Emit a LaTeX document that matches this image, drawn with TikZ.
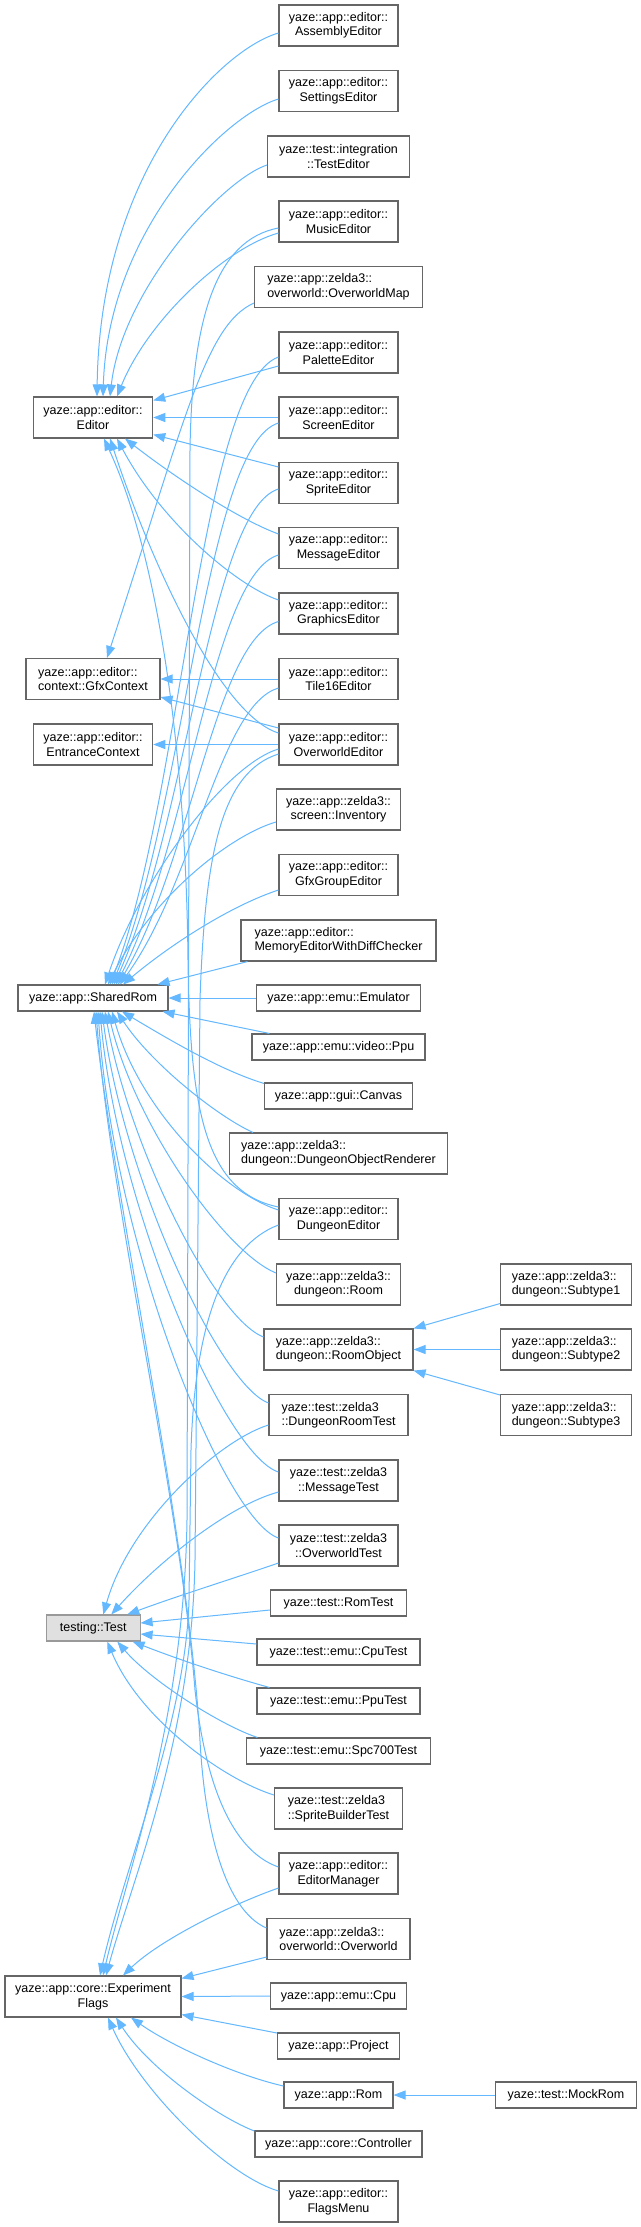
\documentclass[tikz,border=0pt]{standalone}
\usepackage{fontspec}
\setmainfont{Liberation Sans}
\usetikzlibrary{arrows.meta}
\definecolor{edgeblue}{HTML}{63B8FF}
\definecolor{boxgray}{HTML}{666666}
\definecolor{rootgray}{HTML}{999999}
\definecolor{rootfill}{HTML}{E0E0E0}
\tikzset{
  cls/.style={draw=boxgray, line width=1.1pt, fill=white, inner sep=0pt,
    font=\fontsize{12.5}{14.5}\selectfont, align=center, minimum height=41pt},
  one/.style={cls, minimum height=26pt},
  inh/.style={draw=edgeblue, line width=1pt, -{Triangle[length=12pt,width=9pt]}},
}
\begin{document}
\begin{tikzpicture}[x=1pt,y=-1pt]
\path[use as bounding box, fill=white] (0,0) rectangle (640,2227);
% ---------- right column ----------
\node[cls, minimum width=119pt] (asm) at (338.5,25.5) {yaze::app::editor::\\AssemblyEditor};
\node[cls, minimum width=119pt] (set) at (338.5,91) {yaze::app::editor::\\SettingsEditor};
\node[cls, minimum width=142pt] (ted) at (338.5,156.5) {yaze::test::integration\\::TestEditor};
\node[cls, minimum width=119pt] (mus) at (338.5,221.5) {yaze::app::editor::\\MusicEditor};
\node[cls, minimum width=168pt, align=left] (owm) at (338.5,287) {yaze::app::zelda3::\\overworld::OverworldMap};
\node[cls, minimum width=119pt] (pal) at (338.5,352.5) {yaze::app::editor::\\PaletteEditor};
\node[cls, minimum width=119pt] (scr) at (338.5,417.5) {yaze::app::editor::\\ScreenEditor};
\node[cls, minimum width=119pt] (spr) at (338.5,483) {yaze::app::editor::\\SpriteEditor};
\node[cls, minimum width=119pt] (msg) at (338.5,548) {yaze::app::editor::\\MessageEditor};
\node[cls, minimum width=119pt] (gfx) at (338.5,613.5) {yaze::app::editor::\\GraphicsEditor};
\node[cls, minimum width=119pt] (t16) at (338.5,679) {yaze::app::editor::\\Tile16Editor};
\node[cls, minimum width=119pt] (owe) at (338.5,744.5) {yaze::app::editor::\\OverworldEditor};
\node[cls, minimum width=124pt] (inv) at (338.5,809.5) {yaze::app::zelda3::\\screen::Inventory};
\node[cls, minimum width=119pt] (gge) at (338.5,875) {yaze::app::editor::\\GfxGroupEditor};
\node[cls, minimum width=195pt, align=left] (mem) at (338.5,940.5) {yaze::app::editor::\\MemoryEditorWithDiffChecker};
\node[one, minimum width=164pt] (emu) at (338.5,998) {yaze::app::emu::Emulator};
\node[one, minimum width=173pt] (ppu) at (338.5,1047) {yaze::app::emu::video::Ppu};
\node[one, minimum width=148pt] (cvs) at (338.5,1096) {yaze::app::gui::Canvas};
\node[cls, minimum width=218pt, align=left] (dor) at (338.5,1153.5) {yaze::app::zelda3::\\dungeon::DungeonObjectRenderer};
\node[cls, minimum width=119pt] (dge) at (338.5,1219) {yaze::app::editor::\\DungeonEditor};
\node[cls, minimum width=124pt] (room) at (338.5,1284.5) {yaze::app::zelda3::\\dungeon::Room};
\node[cls, minimum width=149pt, align=left] (robj) at (338.5,1349.5) {yaze::app::zelda3::\\dungeon::RoomObject};
\node[cls, minimum width=139pt, align=left] (drt) at (338.5,1415) {yaze::test::zelda3\\::DungeonRoomTest};
\node[cls, minimum width=119pt] (mt) at (338.5,1480.5) {yaze::test::zelda3\\::MessageTest};
\node[cls, minimum width=119pt] (owt) at (338.5,1545.5) {yaze::test::zelda3\\::OverworldTest};
\node[one, minimum width=136pt] (romt) at (338.5,1603) {yaze::test::RomTest};
\node[one, minimum width=163pt] (cput) at (338.5,1652) {yaze::test::emu::CpuTest};
\node[one, minimum width=163pt] (ppt) at (338.5,1701) {yaze::test::emu::PpuTest};
\node[one, minimum width=184pt] (spct) at (338.5,1751) {yaze::test::emu::Spc700Test};
\node[cls, minimum width=128pt, align=left] (sbt) at (338.5,1808.5) {yaze::test::zelda3\\::SpriteBuilderTest};
\node[cls, minimum width=119pt] (edm) at (338.5,1873.5) {yaze::app::editor::\\EditorManager};
\node[cls, minimum width=143pt, align=left] (ow) at (338.5,1939) {yaze::app::zelda3::\\overworld::Overworld};
\node[one, minimum width=136pt] (cpu) at (338.5,1996) {yaze::app::emu::Cpu};
\node[one, minimum width=122pt] (prj) at (338.5,2046) {yaze::app::Project};
\node[one, minimum width=109pt] (rom) at (338.5,2095) {yaze::app::Rom};
\node[one, minimum width=167pt] (ctl) at (338.5,2144) {yaze::app::core::Controller};
\node[cls, minimum width=119pt] (flm) at (338.5,2201.5) {yaze::app::editor::\\FlagsMenu};
% ---------- left column ----------
\node[cls, minimum width=119.4pt] (ed) at (93,417.5) {yaze::app::editor::\\Editor};
\node[cls, minimum width=134pt, align=left] (gfc) at (93,679) {yaze::app::editor::\\context::GfxContext};
\node[cls, minimum width=119.4pt] (ent) at (93,744.5) {yaze::app::editor::\\EntranceContext};
\node[one, minimum width=150pt] (shr) at (93,998) {yaze::app::SharedRom};
\node[one, minimum width=93.5pt, draw=rootgray, fill=rootfill] (tst) at (93.3,1628) {testing::Test};
\node[cls, minimum width=176pt] (flg) at (93,1996.5) {yaze::app::core::Experiment\\Flags};
% ---------- far right column ----------
\node[cls, minimum width=131pt, align=left] (st1) at (566,1284.5) {yaze::app::zelda3::\\dungeon::Subtype1};
\node[cls, minimum width=131pt, align=left] (st2) at (566,1349.5) {yaze::app::zelda3::\\dungeon::Subtype2};
\node[cls, minimum width=131pt, align=left] (st3) at (566,1415) {yaze::app::zelda3::\\dungeon::Subtype3};
\node[one, minimum width=141.5pt] (mock) at (566,2095) {yaze::test::MockRom};
% ---------- edges to Editor ----------
\draw[inh] ([yshift=-7.5pt]asm.west) .. controls (220,50) and (100,170) .. ([xshift=4pt]ed.north);
\draw[inh] ([yshift=-8pt]set.west) .. controls (225,115) and (108,230) .. ([xshift=10pt]ed.north);
\draw[inh] ([yshift=-8.5pt]ted.west) .. controls (222,180) and (122,290) .. ([xshift=17pt]ed.north);
\draw[inh] ([yshift=-11.5pt]mus.west) .. controls (225,248) and (148,320) .. ([xshift=24pt]ed.north);
\draw[inh] ([yshift=-13.5pt]pal.west) -- ([yshift=-4pt]ed.north east);
\draw[inh] (scr.west) -- (ed.east);
\draw[inh] ([yshift=16pt]spr.west) -- ([yshift=4pt]ed.south east);
\draw[inh] ([yshift=14pt]msg.west) .. controls (235,518) and (168,472) .. ([xshift=32pt]ed.south);
\draw[inh] ([yshift=13.5pt]gfx.west) .. controls (235,585) and (160,520) .. ([xshift=24pt]ed.south);
\draw[inh] ([yshift=11.5pt]owe.west) .. controls (220,715) and (150,560) .. ([xshift=17pt]ed.south);
\draw[inh] ([yshift=12pt]dge.west) .. controls (205,1192) and (190,1110) .. (188,960)
  .. controls (186,760) and (160,560) .. ([xshift=11pt]ed.south);
% ---------- GfxContext / EntranceContext ----------
\draw[inh] ([yshift=-16pt]owm.west) .. controls (205,325) and (185,420) .. ([xshift=14pt]gfc.north);
\draw[inh] (t16.west) -- (gfc.east);
\draw[inh] ([yshift=16.5pt]owe.west) -- ([yshift=3pt]gfc.south east);
\draw[inh] (owe.west) -- (ent.east);
% ---------- SharedRom ----------
\draw[inh] ([yshift=-4.5pt]pal.west) .. controls (200,385) and (182,800) .. ([xshift=17pt]shr.north);
\draw[inh] ([yshift=-5.5pt]scr.west) .. controls (205,445) and (185,810) .. ([xshift=19pt]shr.north);
\draw[inh] ([yshift=-6pt]spr.west) .. controls (210,510) and (188,820) .. ([xshift=21pt]shr.north);
\draw[inh] ([yshift=-7pt]msg.west) .. controls (212,575) and (190,840) .. ([xshift=23pt]shr.north);
\draw[inh] ([yshift=-8pt]gfx.west) .. controls (215,640) and (192,860) .. ([xshift=25pt]shr.north);
\draw[inh] ([yshift=-9pt]t16.west) .. controls (220,705) and (195,880) .. ([xshift=27pt]shr.north);
\draw[inh] ([yshift=-4.5pt]owe.west) .. controls (225,765) and (140,880) .. ([xshift=12pt]shr.north);
\draw[inh] ([yshift=-12.5pt]inv.west) .. controls (228,836) and (150,900) .. ([xshift=15pt]shr.north);
\draw[inh] ([yshift=-15pt]gge.west) .. controls (230,906) and (170,945) .. ([xshift=30pt]shr.north);
\draw[inh] ([xshift=7pt]mem.south west) -- ([xshift=-11pt]shr.north east);
\draw[inh] (emu.west) -- (shr.east);
\draw[inh] ([xshift=18pt]ppu.north west) -- ([xshift=-6pt]shr.south east);
\draw[inh] ([yshift=-1pt]cvs.north west) .. controls (220,1070) and (170,1040) .. ([xshift=29pt]shr.south);
\draw[inh] ([xshift=24pt]dor.north west) .. controls (215,1115) and (150,1062) .. ([xshift=24pt]shr.south);
\draw[inh] ([yshift=9pt]dge.west) .. controls (222,1192) and (140,1110) .. ([xshift=19pt]shr.south);
\draw[inh] ([yshift=11.5pt]room.west) .. controls (225,1252) and (135,1125) .. ([xshift=15pt]shr.south);
\draw[inh] ([yshift=12.5pt]robj.west) .. controls (215,1318) and (130,1150) .. ([xshift=12pt]shr.south);
\draw[inh] ([yshift=12pt]drt.west) .. controls (220,1385) and (124,1180) .. ([xshift=9pt]shr.south);
\draw[inh] ([yshift=8.5pt]mt.west) .. controls (225,1455) and (118,1210) .. ([xshift=7pt]shr.south);
\draw[inh] ([yshift=7.5pt]owt.west) .. controls (225,1520) and (114,1250) .. ([xshift=5pt]shr.south);
\draw[inh] ([yshift=6.5pt]edm.west) .. controls (230,1850) and (205,1780) .. (195,1690)
  .. controls (180,1500) and (110,1200) .. ([xshift=3pt]shr.south);
\draw[inh] ([yshift=11pt]ow.west) .. controls (225,1910) and (205,1830) .. (200,1741)
  .. controls (190,1550) and (115,1200) .. ([xshift=1pt]shr.south);
% ---------- testing::Test ----------
\draw[inh] ([yshift=-10pt]drt.west) .. controls (220,1440) and (130,1520) .. ([xshift=10pt]tst.north);
\draw[inh] ([yshift=-11.5pt]mt.west) .. controls (230,1505) and (160,1560) .. ([xshift=18pt]tst.north);
\draw[inh] ([yshift=-17.5pt]owt.west) .. controls (235,1578) and (180,1595) .. ([xshift=34pt]tst.north);
\draw[inh] ([yshift=-7pt]romt.west) -- ([yshift=5pt]tst.east);
\draw[inh] ([yshift=8pt]cput.west) -- ([yshift=-6pt]tst.east);
\draw[inh] ([xshift=13pt]ppt.north west) .. controls (228,1676) and (180,1660) .. ([xshift=-8pt]tst.south east);
\draw[inh] ([xshift=11.5pt]spct.north west) .. controls (220,1725) and (150,1680) .. ([xshift=24pt]tst.south);
\draw[inh] ([yshift=13.5pt]sbt.west) .. controls (225,1780) and (140,1720) .. ([xshift=14pt]tst.south);
% ---------- ExperimentFlags ----------
\draw[inh] ([yshift=-6.5pt]mus.west) .. controls (215,240) and (192,320) .. (190,450)
  -- (187,1520) .. controls (184,1720) and (128,1870) .. ([xshift=10pt]flg.north);
\draw[inh] ([yshift=-9.5pt]owe.west) .. controls (222,772) and (205,850) .. (200,1000)
  -- (195,1560) .. controls (192,1740) and (132,1880) .. ([xshift=13pt]flg.north);
\draw[inh] ([yshift=-6pt]dge.west) .. controls (225,1245) and (195,1320) .. (191,1450)
  -- (189,1600) .. controls (186,1720) and (125,1865) .. ([xshift=7pt]flg.north);
\draw[inh] ([yshift=-14.5pt]edm.west) .. controls (230,1905) and (160,1940) .. ([xshift=30pt]flg.north);
\draw[inh] ([yshift=-18pt]ow.west) -- ([yshift=-3pt]flg.north east);
\draw[inh] (cpu.west) -- (flg.east);
\draw[inh] ([yshift=13pt]prj.west) -- ([yshift=3pt]flg.south east);
\draw[inh] ([yshift=9pt]rom.west) .. controls (235,2075) and (170,2045) .. ([xshift=38pt]flg.south);
\draw[inh] ([yshift=13pt]ctl.west) .. controls (220,2118) and (150,2070) .. ([xshift=23pt]flg.south);
\draw[inh] ([yshift=10.5pt]flm.west) .. controls (225,2175) and (140,2090) .. ([xshift=15pt]flg.south);
% ---------- RoomObject / Rom ----------
\draw[inh] ([yshift=2pt]st1.south west) -- (robj.north east);
\draw[inh] (st2.west) -- (robj.east);
\draw[inh] ([yshift=-1pt]st3.north west) -- (robj.south east);
\draw[inh] (mock.west) -- (rom.east);
\end{tikzpicture}
\end{document}
